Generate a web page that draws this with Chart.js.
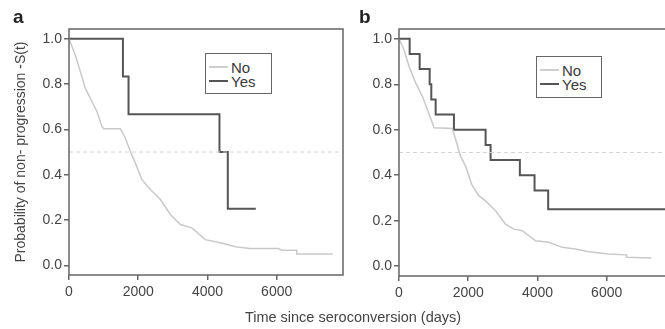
<!DOCTYPE html>
<html>
<head>
<meta charset="utf-8">
<script src="https://cdn.jsdelivr.net/npm/chart.js@4"></script>
<style>
html, body { margin: 0; padding: 0; background: #fff; overflow: hidden; }
#wrap { position: relative; width: 665px; height: 329px; overflow: hidden; font-family: "Liberation Sans", Arial, sans-serif; color: #444; }
.cv { position: absolute; top: 0; width: 350px; height: 329px; }
.lbl { position: absolute; font-weight: bold; font-size: 19px; line-height: 19px; color: #222; }
.leg { position: absolute; border: 1.5px solid #666; box-sizing: border-box; background: #fff; }
.leg .ln { position: absolute; left: 3px; width: 19px; height: 2px; }
.leg .tx { position: absolute; left: 25px; font-size: 15px; line-height: 15px; color: #3a3a3a; }
#xt { position: absolute; left: 0; width: 706px; top: 309px; text-align: center; font-size: 14.5px; color: #444; }
</style>
</head>
<body>
<div id="wrap">
  <div class="cv" style="left:0"><canvas id="chartA"></canvas></div>
  <div class="cv" style="left:330px"><canvas id="chartB"></canvas></div>
  <div class="lbl" style="left:13px;top:7px">a</div>
  <div class="lbl" style="left:359px;top:7px">b</div>
  <div class="leg" style="left:205px;top:53px;width:67px;height:41px">
    <span class="ln" style="top:12px;background:#cfcfcf"></span><span class="tx" style="top:6px">No</span>
    <span class="ln" style="top:26px;background:#555"></span><span class="tx" style="top:20px">Yes</span>
  </div>
  <div class="leg" style="left:536px;top:56px;width:66px;height:42px">
    <span class="ln" style="top:12px;background:#cfcfcf"></span><span class="tx" style="top:6px">No</span>
    <span class="ln" style="top:26px;background:#555"></span><span class="tx" style="top:20px">Yes</span>
  </div>
  <div id="xt">Time since seroconversion (days)</div>
</div>
<script>
// panel a: reactivity = No / Yes
var timeA_No = [0, 182, 326, 470, 663, 808, 952, 1000, 1481, 1626, 1770, 1914, 2107, 2352, 2641, 2929, 3218, 3550, 3935, 4368, 4848, 5232, 6050, 6147, 6580, 6580, 7619];
var survA_No = [1, 0.928, 0.856, 0.782, 0.723, 0.679, 0.613, 0.603, 0.603, 0.562, 0.503, 0.452, 0.378, 0.334, 0.29, 0.224, 0.18, 0.165, 0.113, 0.099, 0.081, 0.074, 0.074, 0.066, 0.066, 0.05, 0.05];
var timeA_Yes = [0, 1558, 1720, 4347, 4588, 5397];
var survA_Yes = [1, 0.833, 0.667, 0.5, 0.25, 0.25];

// panel b
var timeB_No = [0, 144, 289, 481, 674, 818, 962, 1010, 1539, 1635, 1779, 1924, 2100, 2300, 2502, 2790, 3078, 3319, 3559, 3945, 4329, 4714, 5099, 5484, 6061, 6574, 6574, 7290];
var survB_No = [1, 0.952, 0.879, 0.806, 0.747, 0.689, 0.631, 0.609, 0.606, 0.558, 0.484, 0.44, 0.36, 0.31, 0.287, 0.244, 0.185, 0.163, 0.156, 0.112, 0.105, 0.083, 0.076, 0.064, 0.054, 0.05, 0.039, 0.036];
var timeB_Yes = [0, 308, 597, 886, 933, 1059, 1587, 2502, 2646, 3492, 3916, 4310, 7900];
var survB_Yes = [1, 0.933, 0.867, 0.8, 0.733, 0.667, 0.6, 0.533, 0.467, 0.4, 0.333, 0.25, 0.25];

var xTicks = [0, 2000, 4000, 6000];
var yTicks = [0, 0.2, 0.4, 0.6, 0.8, 1.0];
var medianLine = 0.5;
var xMax = 7916;

Chart.defaults.font.family = '"Liberation Sans", Arial, sans-serif';
Chart.defaults.color = '#444';

function pts(t, s) {
    return t.map(function (v, i) { return {x: v, y: s[i]}; });
}

var framePlugin = {
    id: 'frame',
    afterDraw: function (chart) {
        var a = chart.chartArea, c = chart.ctx;
        c.save();
        c.strokeStyle = '#666';
        c.lineWidth = 1.5;
        c.strokeRect(a.left, a.top, a.right - a.left, a.bottom - a.top);
        c.restore();
    }
};

function makeChart(id, tNo, sNo, tYes, sYes, withTitle, padBottom) {
    new Chart(document.getElementById(id), {
        type: 'line',
        data: {
            datasets: [
                {
                    data: [{x: 0, y: medianLine}, {x: xMax, y: medianLine}],
                    borderColor: '#d4d4d4',
                    borderWidth: 1,
                    borderDash: [4, 3],
                    pointRadius: 0
                },
                {
                    label: 'No',
                    data: pts(tNo, sNo),
                    borderColor: '#c9c9c9',
                    borderWidth: 1.5,
                    pointRadius: 0,
                    tension: 0
                },
                {
                    label: 'Yes',
                    data: pts(tYes, sYes),
                    borderColor: '#555',
                    borderWidth: 2,
                    pointRadius: 0,
                    stepped: 'before'
                }
            ]
        },
        options: {
            responsive: true,
            maintainAspectRatio: false,
            animation: false,
            layout: {padding: {top: 29, right: 7, left: 0, bottom: padBottom}},
            plugins: {legend: {display: false}, tooltip: {enabled: false}},
            scales: {
                x: {
                    type: 'linear',
                    min: 0,
                    max: xMax,
                    afterBuildTicks: function (s) { s.ticks = xTicks.map(function (v) { return {value: v}; }); },
                    afterFit: function (s) { s.height = 25; },
                    border: {display: false},
                    grid: {drawOnChartArea: false, tickLength: 5, tickColor: '#666', lineWidth: 1.5},
                    ticks: {padding: 4, font: {size: 14}, color: '#444', callback: function (v) { return String(v); }}
                },
                y: {
                    min: -0.043,
                    max: 1.043,
                    afterBuildTicks: function (s) { s.ticks = yTicks.map(function (v) { return {value: v}; }); },
                    afterFit: function (s) { s.width = 69; },
                    border: {display: false},
                    grid: {drawOnChartArea: false, tickLength: 5, tickColor: '#666', lineWidth: 1.5},
                    ticks: {padding: 2, font: {size: 14}, color: '#444', callback: function (v) { return v.toFixed(1); }},
                    title: {
                        display: withTitle,
                        text: 'Probability of non- progression -S(t)',
                        font: {size: 14},
                        color: '#444',
                        padding: {top: 13, bottom: 0}
                    }
                }
            }
        },
        plugins: [framePlugin]
    });
}

makeChart('chartA', timeA_No, survA_No, timeA_Yes, survA_Yes, true, 29);
makeChart('chartB', timeB_No, survB_No, timeB_Yes, survB_Yes, false, 28);
</script>
</body>
</html>
